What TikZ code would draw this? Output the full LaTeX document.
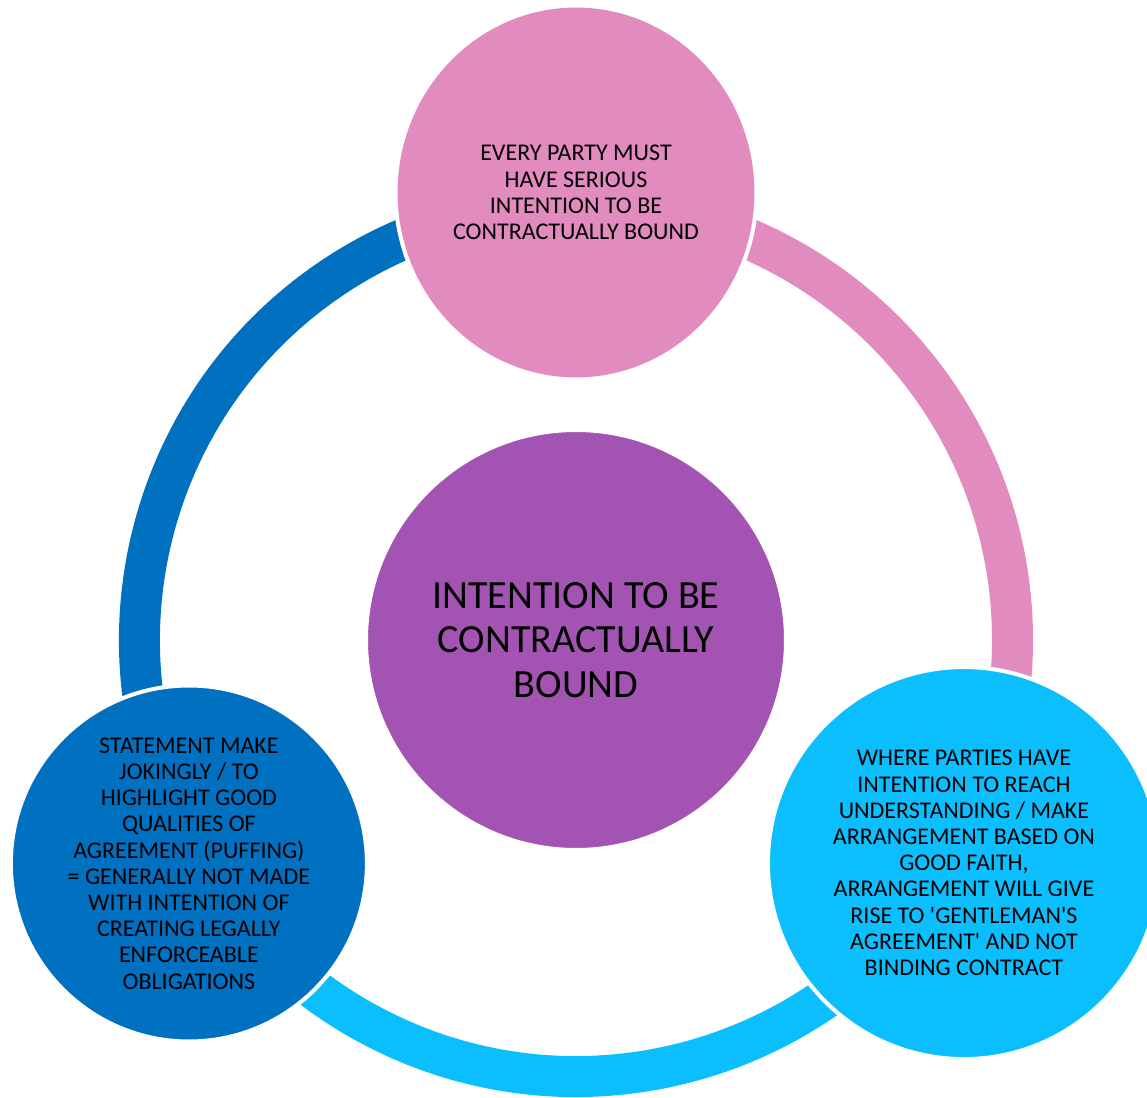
\documentclass[tikz,border=0pt]{standalone}
\usepackage{fontspec}
\setmainfont{Carlito}
\usepackage{tikz}
\usetikzlibrary{shapes,positioning}
\definecolor{cbpink}{RGB}{226,139,190}
\definecolor{cbpurple}{RGB}{163,84,178}
\definecolor{cbcyan}{RGB}{11,191,255}
\definecolor{cbblue}{RGB}{0,112,192}
\tikzstyle{bubble} = [circle, inner sep=0pt, draw=white, line width=4pt]
\tikzstyle{blurb} = [align=center, inner sep=0pt, text=black, font=\fontsize{24}{26.2}\selectfont]
\tikzstyle{ring} = [line width=41pt]

\begin{document}
\begin{tikzpicture}[x=1pt, y=1pt]
\useasboundingbox (-576,-457) rectangle (571,640);
% ring pieces behind the circles
\draw[ring, cbpink] (90:436.5) arc[start angle=90, end angle=-30, radius=436.5];
\draw[ring, cbcyan] (-30:436.5) arc[start angle=-30, end angle=-150, radius=436.5];
\draw[ring, cbblue] (210:436.5) arc[start angle=210, end angle=90, radius=436.5];
% circles
\node (core) [bubble, fill=cbpurple, minimum size=420pt] at (0,0) {};
\node (top) [bubble, ellipse, fill=cbpink, minimum width=361pt, minimum height=374pt] at (90:447.5) {};
\node (right) [bubble, fill=cbcyan, minimum size=392pt] at (-29.9:447.5) {};
\node (left) [bubble, fill=cbblue, minimum size=356pt] at (210:447) {};
% texts
\node (coretext) [blurb, font=\fontsize{40}{44.3}\selectfont] at (core) {INTENTION TO BE\\CONTRACTUALLY\\BOUND};
\node (toptext) [blurb] at (top) {EVERY PARTY MUST\\HAVE SERIOUS\\INTENTION TO BE\\CONTRACTUALLY BOUND};
\node (righttext) [blurb] at (right) {WHERE PARTIES HAVE\\INTENTION TO REACH\\UNDERSTANDING / MAKE\\ARRANGEMENT BASED ON\\GOOD FAITH,\\ARRANGEMENT WILL GIVE\\RISE TO \textquotesingle GENTLEMAN\textquotesingle S\\AGREEMENT\textquotesingle{} AND NOT\\BINDING CONTRACT};
\node (lefttext) [blurb] at (left) {STATEMENT MAKE\\JOKINGLY / TO\\HIGHLIGHT GOOD\\QUALITIES OF\\AGREEMENT (PUFFING)\\= GENERALLY NOT MADE\\WITH INTENTION OF\\CREATING LEGALLY\\ENFORCEABLE\\OBLIGATIONS};
\end{tikzpicture}
\end{document}
